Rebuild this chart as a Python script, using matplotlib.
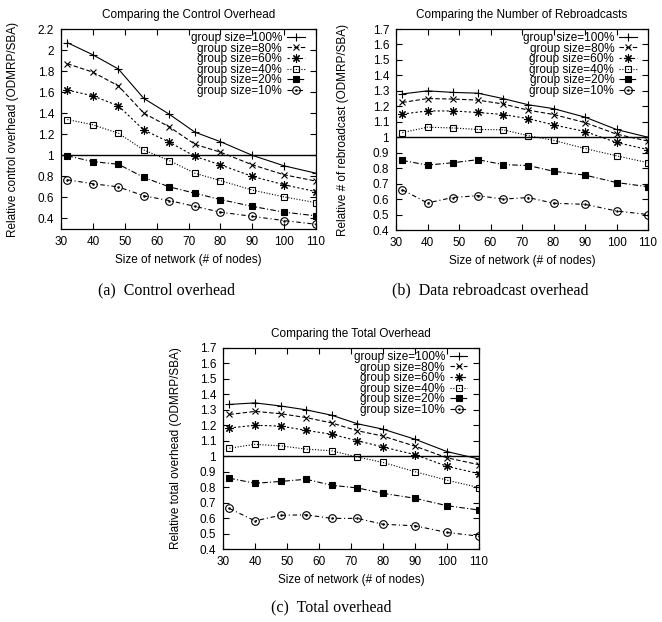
import matplotlib
matplotlib.use("Agg")
import matplotlib.pyplot as plt
from matplotlib.path import Path
from matplotlib.ticker import FixedLocator, FuncFormatter
import numpy as np

plt.rcParams['font.family'] = ['Liberation Sans', 'DejaVu Sans']

# ---------------- data ----------------
nodes = [32, 40, 48, 56, 64, 72, 80, 90, 100, 110]
group_labels = ['group size=100%', 'group size=80%', 'group size=60%',
                'group size=40%', 'group size=20%', 'group size=10%']

# (a) relative control overhead
ctrl_100 = [2.07, 1.955, 1.82, 1.54, 1.39, 1.22, 1.13, 1.00, 0.90, 0.83]
ctrl_80 = [1.87, 1.79, 1.66, 1.40, 1.27, 1.105, 1.03, 0.91, 0.815, 0.755]
ctrl_60 = [1.62, 1.565, 1.47, 1.24, 1.125, 0.99, 0.91, 0.80, 0.72, 0.655]
ctrl_40 = [1.34, 1.29, 1.21, 1.05, 0.95, 0.83, 0.76, 0.67, 0.605, 0.55]
ctrl_20 = [0.995, 0.94, 0.915, 0.79, 0.70, 0.64, 0.58, 0.515, 0.46, 0.425]
ctrl_10 = [0.767, 0.73, 0.70, 0.615, 0.57, 0.515, 0.46, 0.42, 0.38, 0.345]

# (b) relative number of rebroadcasts
rebc_100 = [1.28, 1.30, 1.29, 1.285, 1.25, 1.21, 1.185, 1.13, 1.05, 1.00]
rebc_80 = [1.225, 1.25, 1.247, 1.24, 1.215, 1.175, 1.147, 1.095, 1.02, 0.975]
rebc_60 = [1.15, 1.17, 1.17, 1.16, 1.147, 1.12, 1.08, 1.037, 0.966, 0.92]
rebc_40 = [1.03, 1.065, 1.06, 1.05, 1.048, 1.01, 0.98, 0.927, 0.88, 0.835]
rebc_20 = [0.85, 0.82, 0.835, 0.855, 0.823, 0.817, 0.78, 0.755, 0.707, 0.68]
rebc_10 = [0.66, 0.575, 0.61, 0.622, 0.60, 0.61, 0.573, 0.566, 0.523, 0.50]

# (c) relative total overhead
total_100 = [1.335, 1.345, 1.325, 1.30, 1.265, 1.21, 1.175, 1.11, 1.03, 0.982]
total_80 = [1.27, 1.29, 1.275, 1.25, 1.215, 1.165, 1.13, 1.065, 0.99, 0.945]
total_60 = [1.183, 1.20, 1.195, 1.167, 1.142, 1.10, 1.06, 1.01, 0.935, 0.887]
total_40 = [1.052, 1.077, 1.067, 1.046, 1.035, 0.995, 0.96, 0.90, 0.845, 0.797]
total_20 = [0.858, 0.825, 0.837, 0.851, 0.812, 0.795, 0.76, 0.728, 0.68, 0.652]
total_10 = [0.662, 0.582, 0.618, 0.621, 0.598, 0.598, 0.56, 0.55, 0.507, 0.483]

x_ticks = [30, 40, 50, 60, 70, 80, 90, 100, 110]

panel_titles = ['Comparing the Control Overhead',
                'Comparing the Number of Rebroadcasts',
                'Comparing the Total Overhead']
panel_ylabels = ['Relative control overhead (ODMRP/SBA)',
                 'Relative # of rebroadcast (ODMRP/SBA)',
                 'Relative total overhead (ODMRP/SBA)']
captions = ['(a)  Control overhead', '(b)  Data rebroadcast overhead',
            '(c)  Total overhead']

# ---------------- styles ----------------
circ_dot = Path.make_compound_path(Path.unit_circle(),
                                   Path.circle((0, 0), 0.18))
styles = [
    dict(ls='-', marker='+', ms=6, mfc='black'),
    dict(ls=(0, (4, 2)), marker='x', ms=4.5, mfc='black'),
    dict(ls=(0, (2, 2)), marker=(8, 2, 0), ms=6, mfc='black'),
    dict(ls=(0, (1, 1.5)), marker='s', ms=4.5, mfc='none'),
    dict(ls=(0, (5, 2, 1, 2)), marker='s', ms=5, mfc='black'),
    dict(ls=(0, (4, 2.5, 1, 2.5)), marker=circ_dot, ms=5.5, mfc='none'),
]

W, H = 662, 622
fig = plt.figure(figsize=(W / 100, H / 100), dpi=100)


def rect(l, t, r, b):
    return [l / W, 1 - b / H, (r - l) / W, (b - t) / H]


axes_rects = [rect(61, 29, 316, 229), rect(396, 29, 648, 230),
              rect(223, 348, 479, 549)]
ylabel_x = [-0.165, -0.185, -0.16]
ylims = [(0.3, 2.2), (0.4, 1.7), (0.4, 1.7)]
ytick_sets = [np.round(np.arange(0.4, 2.21, 0.2), 2),
              np.round(np.arange(0.4, 1.71, 0.1), 2),
              np.round(np.arange(0.4, 1.71, 0.1), 2)]
datasets = [
    [ctrl_100, ctrl_80, ctrl_60, ctrl_40, ctrl_20, ctrl_10],
    [rebc_100, rebc_80, rebc_60, rebc_40, rebc_20, rebc_10],
    [total_100, total_80, total_60, total_40, total_20, total_10],
]
fs = 8.5

for i in range(3):
    ax = fig.add_axes(axes_rects[i])
    for series, lab, st in zip(datasets[i], group_labels, styles):
        ax.plot(nodes, series, color='black', lw=0.8, ls=st['ls'],
                marker=st['marker'], ms=st['ms'], mfc=st['mfc'],
                mec='black', mew=0.8, label=lab)
    ax.axhline(1.0, color='black', lw=1.0)
    ax.set_xlim(30, 110)
    ax.set_ylim(*ylims[i])
    ax.xaxis.set_major_locator(FixedLocator(x_ticks))
    ax.yaxis.set_major_locator(FixedLocator(ytick_sets[i]))
    ax.yaxis.set_major_formatter(FuncFormatter(lambda v, p: f'{v:g}'))
    ax.tick_params(direction='in', length=4.5, width=0.8, top=True,
                   right=True, labelsize=fs, pad=5)
    for sp in ax.spines.values():
        sp.set_linewidth(0.9)
    ax.set_title(panel_titles[i], fontsize=fs, pad=8)
    ax.set_xlabel('Size of network (# of nodes)', fontsize=fs, labelpad=4)
    ax.set_ylabel(panel_ylabels[i], fontsize=fs)
    ax.yaxis.set_label_coords(ylabel_x[i], 0.5)
    ax.legend(loc='upper right', bbox_to_anchor=(0.955, 0.985),
              frameon=False, markerfirst=False, numpoints=1,
              fontsize=fs, handlelength=1.5, handletextpad=0.4,
              labelspacing=-0.12, borderpad=0, borderaxespad=0,
              alignment='right')

fig.text(166 / W, 1 - 290 / H, captions[0], ha='center', va='center',
         family='Liberation Serif', fontsize=11.5)
fig.text(490 / W, 1 - 290 / H, captions[1], ha='center', va='center',
         family='Liberation Serif', fontsize=11.5)
fig.text(331 / W, 1 - 607 / H, captions[2], ha='center', va='center',
         family='Liberation Serif', fontsize=11.5)

fig.savefig('out.png', dpi=100)
